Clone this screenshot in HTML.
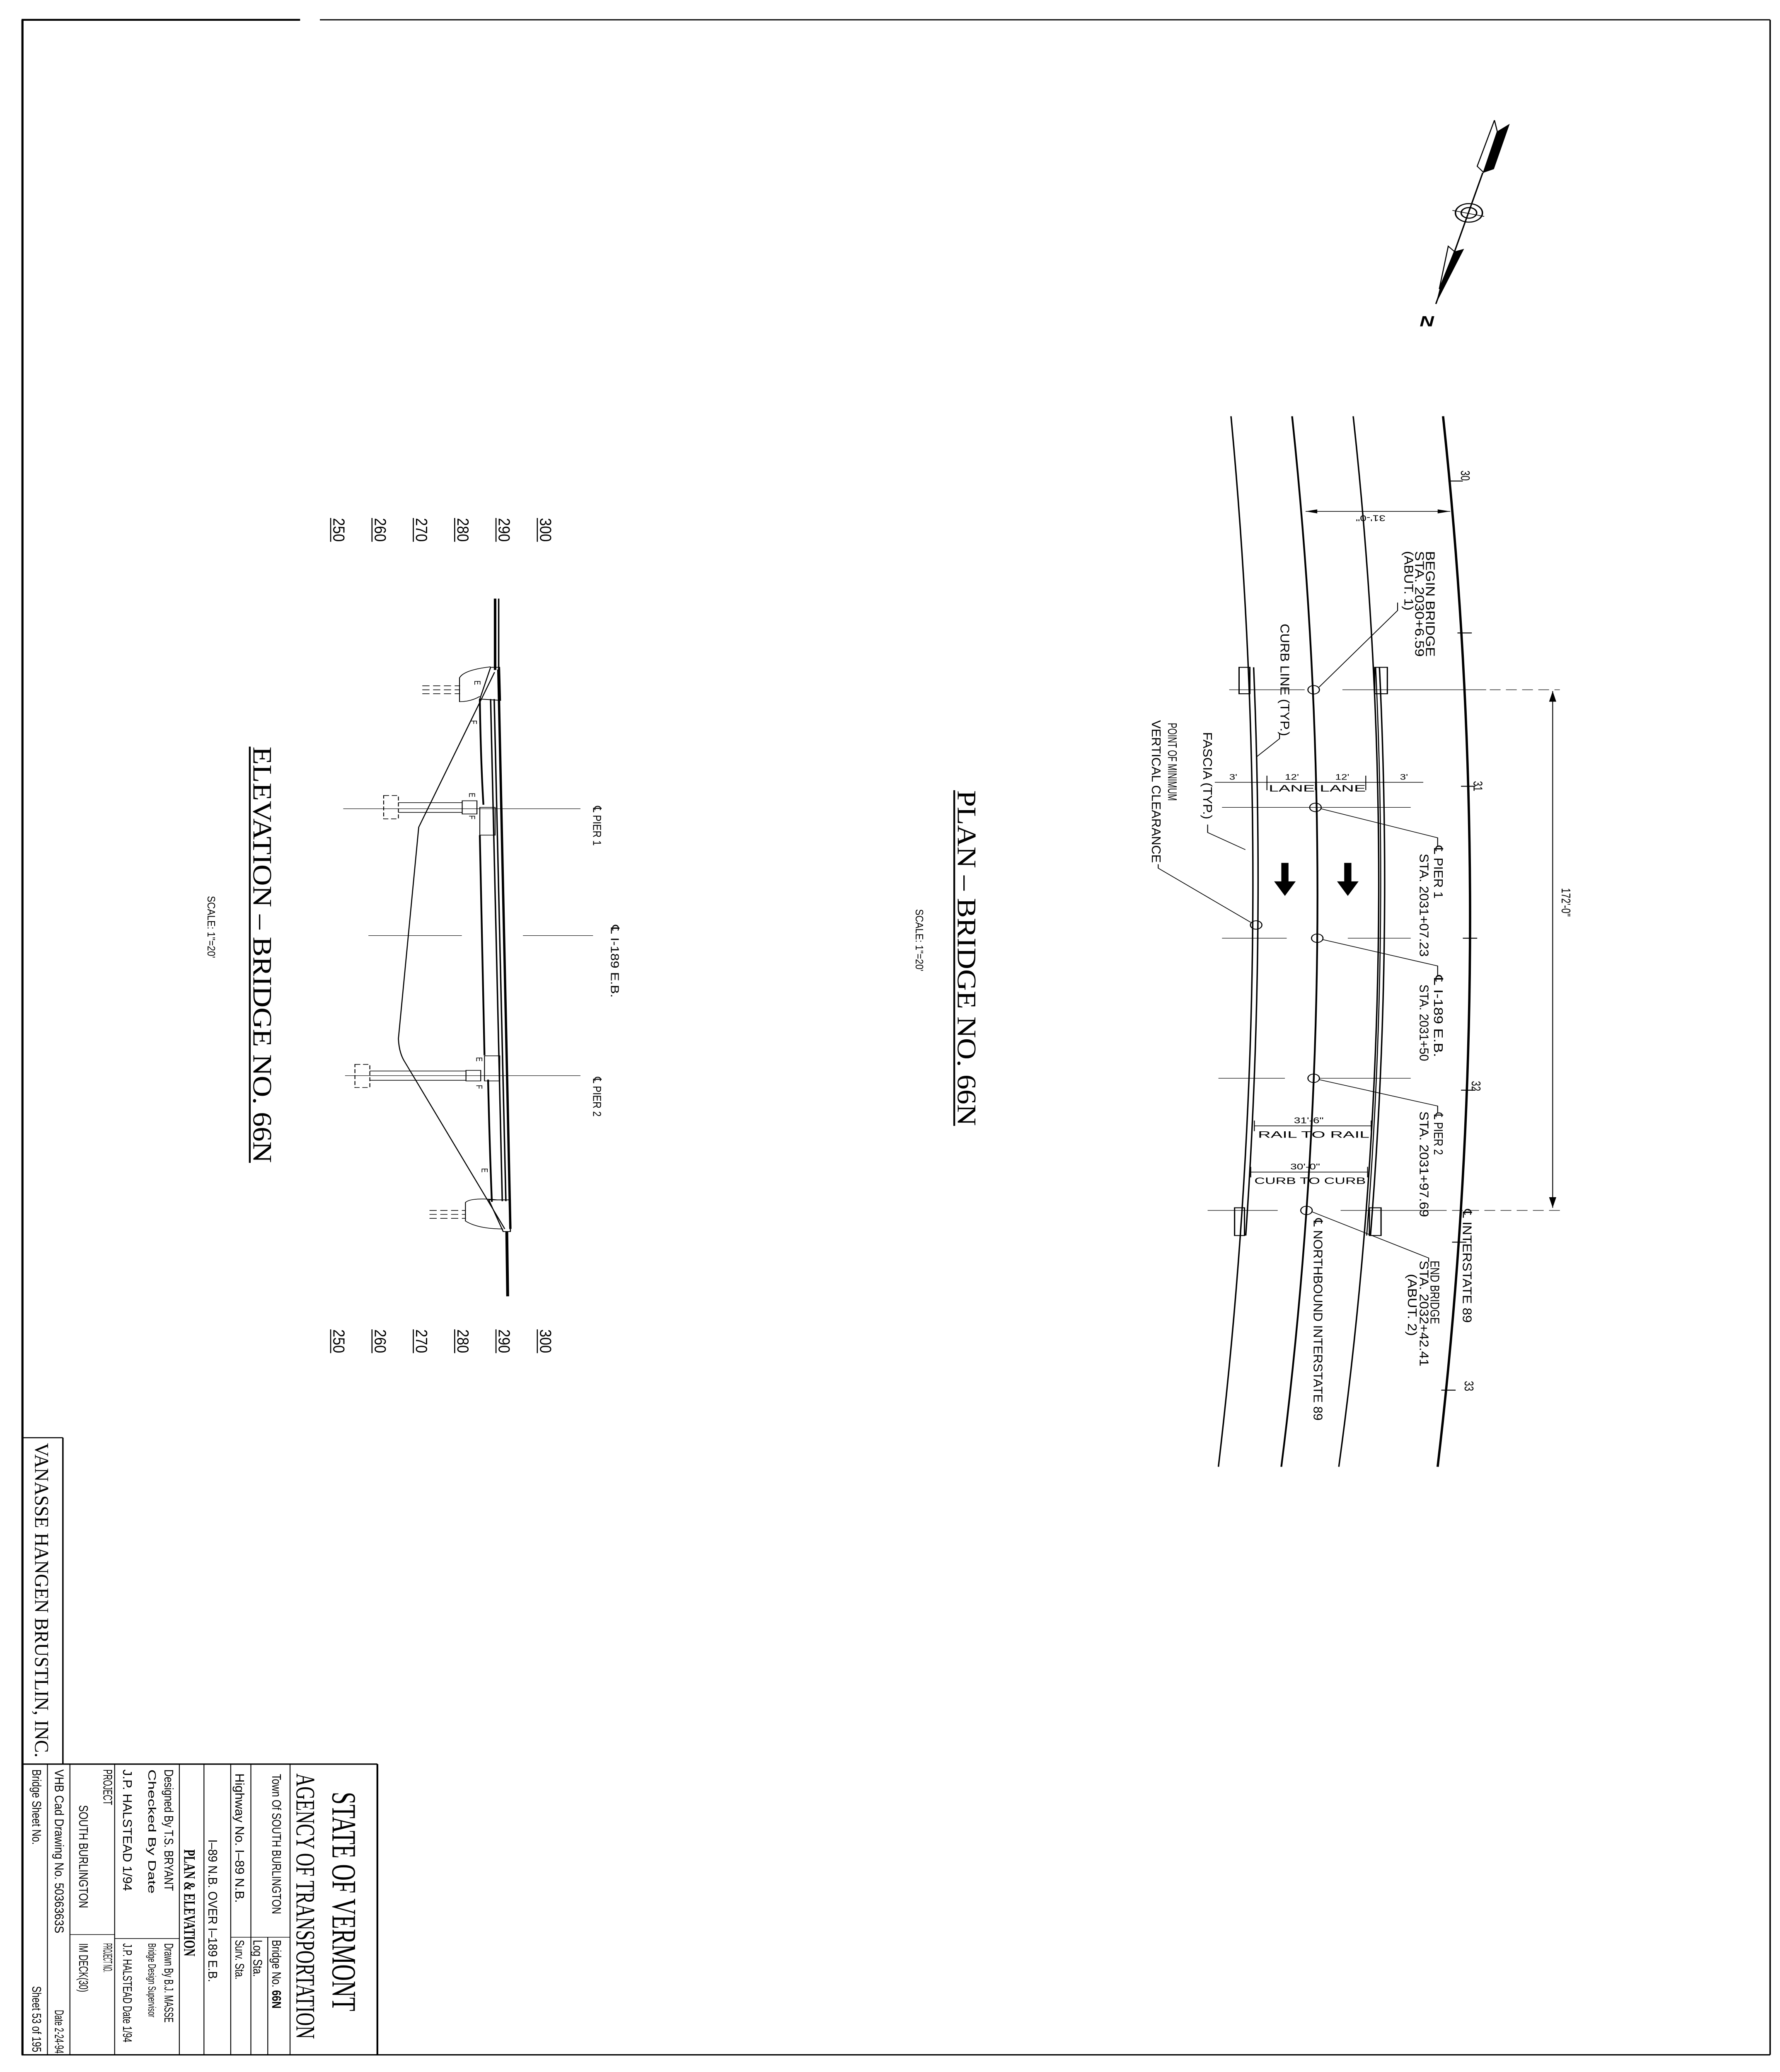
<!DOCTYPE html>
<html><head><meta charset="utf-8"><style>
html,body{margin:0;padding:0;background:#fff;width:100%;height:100%;overflow:hidden;}
svg{display:block;position:fixed;left:0;top:0;width:100vw;height:100vh;}
text{fill:#000;}
.s{font-family:"Liberation Sans","DejaVu Sans",sans-serif;}
.r{font-family:"Liberation Serif","DejaVu Serif",serif;}
</style></head><body>
<svg xmlns="http://www.w3.org/2000/svg" viewBox="0 0 990.5 1568" preserveAspectRatio="none">
<rect x="0" y="0" width="990.5" height="1568" fill="#fff"/>
<g stroke="#000" fill="none" stroke-linecap="butt">
<line x1="12" y1="15" x2="167" y2="15" stroke-width="1.4"/>
<line x1="178" y1="15" x2="985" y2="15" stroke-width="0.9"/>
<line x1="12.5" y1="15" x2="12.5" y2="1555" stroke-width="1.2"/>
<line x1="985" y1="15" x2="985" y2="1555" stroke-width="0.8"/>
<line x1="12" y1="1555" x2="985" y2="1555" stroke-width="1"/>

<line x1="210" y1="1335" x2="210" y2="1555" stroke-width="1"/>
<line x1="12" y1="1335" x2="210" y2="1335" stroke-width="1"/>
<line x1="161.4" y1="1335" x2="161.4" y2="1555" stroke-width="0.5"/>
<line x1="149" y1="1466" x2="149" y2="1555" stroke-width="0.5"/>
<line x1="139.6" y1="1335" x2="139.6" y2="1555" stroke-width="0.5"/>
<line x1="128.4" y1="1335" x2="128.4" y2="1555" stroke-width="0.5"/>
<line x1="113.5" y1="1335" x2="113.5" y2="1555" stroke-width="0.5"/>
<line x1="99.8" y1="1335" x2="99.8" y2="1555" stroke-width="0.5"/>
<line x1="63.8" y1="1335" x2="63.8" y2="1555" stroke-width="0.5"/>
<line x1="38.9" y1="1335" x2="38.9" y2="1555" stroke-width="0.5"/>
<line x1="26.4" y1="1335" x2="26.4" y2="1555" stroke-width="0.5"/>
<line x1="128.4" y1="1466" x2="161.4" y2="1466" stroke-width="0.5"/>
<line x1="63.8" y1="1467" x2="99.8" y2="1467" stroke-width="0.5"/>
<line x1="38.9" y1="1464" x2="63.8" y2="1464" stroke-width="0.5"/>
<line x1="35" y1="1088" x2="35" y2="1335" stroke-width="0.8"/>
<line x1="12" y1="1088" x2="35" y2="1088" stroke-width="0.8"/>

<path d="M803,315 Q834.5,712 800,1110" stroke-width="1.3"/>
<path d="M753,315 Q785,712 745,1110" stroke-width="0.8"/>
<path d="M719,315 Q750,712 713,1110" stroke-width="1"/>
<path d="M685,315 Q712.5,712 678,1110" stroke-width="0.8"/>
<path d="M697.6,505 Q704.2,720 693.2,935" stroke-width="0.8"/>
<path d="M767.6,505 Q775.3,720 762.6,935" stroke-width="0.8"/>
<path d="M765.5,505 Q773,720 760.5,935" stroke-width="0.6"/>
<rect x="689.5" y="505" width="6" height="20" stroke-width="0.7"/>
<rect x="765" y="505" width="7" height="20" stroke-width="0.7"/>
<rect x="687" y="914" width="5.5" height="21" stroke-width="0.7"/>
<rect x="762" y="914" width="6.5" height="21" stroke-width="0.7"/>
<g stroke-width="0.4">
<line x1="684" y1="522" x2="726" y2="522"/><line x1="747" y1="522" x2="827" y2="522"/><line x1="829" y1="522" x2="868" y2="522" stroke-dasharray="6 3"/>
<line x1="680" y1="611" x2="785" y2="611"/>
<line x1="680" y1="710" x2="716" y2="710"/><line x1="750" y1="710" x2="785" y2="710"/>
<line x1="678" y1="816" x2="715" y2="816"/><line x1="734" y1="816" x2="785" y2="816"/>
<line x1="672" y1="916" x2="711" y2="916"/><line x1="746" y1="916" x2="799" y2="916"/><line x1="799" y1="916" x2="868" y2="916" stroke-dasharray="6 3"/>
</g>
<g stroke-width="0.7">
<line x1="806" y1="364" x2="814" y2="364"/>
<line x1="811" y1="479" x2="819" y2="479"/>
<line x1="813" y1="595" x2="821" y2="595"/>
<line x1="814" y1="710" x2="822" y2="710"/>
<line x1="813" y1="825" x2="821" y2="825"/>
<line x1="808" y1="940" x2="816" y2="940"/>
<line x1="802" y1="1052" x2="810" y2="1052"/>
</g>
<g stroke-width="0.6">
<circle cx="731" cy="522" r="3.2"/><circle cx="732" cy="611" r="3.2"/><circle cx="733" cy="710" r="3.2"/>
<circle cx="731" cy="816" r="3.2"/><circle cx="727" cy="916" r="3.2"/><circle cx="699" cy="700" r="3.2"/>
</g>
<g stroke-width="0.5">
<polyline points="734,520 777.7,462 777.7,456"/>
<polyline points="699,573 712,559 712,555"/>
<polyline points="693,643 672,630 672,624"/>
<polyline points="696,698 644.5,657 644.5,654"/>
<polyline points="735,612 800,634 800,640"/>
<polyline points="736,711 800,731 800,738"/>
<polyline points="734,817 800,837 800,842"/>
<polyline points="730,917 795,952 795,955"/>
</g>
<line x1="864" y1="523" x2="864" y2="914" stroke-width="0.5"/>
<line x1="726.5" y1="387" x2="807" y2="387" stroke-width="0.5"/>
<g stroke-width="0.5">
<line x1="676" y1="592" x2="792" y2="592"/>
<line x1="705" y1="587" x2="705" y2="598"/><line x1="760" y1="587" x2="760" y2="598"/>
<line x1="732" y1="592" x2="732" y2="598"/>
<line x1="698" y1="852" x2="763" y2="852"/><line x1="698" y1="848" x2="698" y2="856"/><line x1="763" y1="848" x2="763" y2="856"/>
<line x1="696" y1="887" x2="761" y2="887"/><line x1="696" y1="883" x2="696" y2="891"/><line x1="761" y1="883" x2="761" y2="891"/>
</g>

<line x1="275.5" y1="453" x2="275.5" y2="507" stroke-width="1.4"/>
<line x1="277.5" y1="453" x2="277.5" y2="507" stroke-width="0.8"/>
<line x1="277.3" y1="506.7" x2="284" y2="930" stroke-width="1.3"/>
<line x1="275" y1="529" x2="281.5" y2="909" stroke-width="0.8"/>
<line x1="273" y1="529" x2="279.5" y2="909" stroke-width="0.8"/>
<path d="M267,529 Q267.5,575 269,609" stroke-width="1"/>
<line x1="267" y1="632" x2="269.6" y2="798.6" stroke-width="1"/>
<path d="M271.6,817 Q272.5,870 273.7,909.5" stroke-width="1"/>
<rect x="267" y="611" width="8.5" height="21" stroke-width="0.5"/>
<rect x="269.6" y="799" width="8.5" height="19" stroke-width="0.5"/>
<line x1="282" y1="932" x2="282.5" y2="981" stroke-width="1.6"/>
<polygon points="273,505 278,505 278.5,530 267,529" stroke-width="0.6"/>
<path d="M273,504.6 Q258,507 255.7,513 L255.7,531 Q262,531 267,527" stroke-width="0.5"/>
<polygon points="272,908 284,908 284,932 280,932" stroke-width="0.6"/>
<path d="M277,908 Q262,906 259,910 L259,924 Q266,930 280,930" stroke-width="0.5"/>
<g stroke-width="0.5" stroke-dasharray="4 2">
<line x1="235" y1="519" x2="256" y2="519"/><line x1="235" y1="522" x2="256" y2="522"/><line x1="235" y1="525" x2="256" y2="525"/>
<line x1="239" y1="916" x2="259" y2="916"/><line x1="239" y1="919" x2="259" y2="919"/><line x1="239" y1="922" x2="259" y2="922"/>
</g>
<path d="M275.2,508.7 L233,626 L221.7,786 Q222,796 224.8,802.6 L280.9,930" stroke-width="0.6"/>
<g stroke-width="0.5">
<line x1="191" y1="612" x2="323" y2="612" stroke-width="0.35"/>
<rect x="257.2" y="606" width="8.2" height="10"/>
<line x1="221.7" y1="607.4" x2="257.2" y2="607.4"/><line x1="221.7" y1="614.8" x2="257.2" y2="614.8"/>
<rect x="213.5" y="602" width="8.2" height="17.7" stroke-dasharray="3 1.5"/>
<line x1="192" y1="814" x2="323" y2="814" stroke-width="0.35"/>
<rect x="259.3" y="810" width="8.2" height="8"/>
<line x1="205.8" y1="810.5" x2="259.3" y2="810.5"/><line x1="205.8" y1="817.5" x2="259.3" y2="817.5"/>
<rect x="197.5" y="805.5" width="8.3" height="17.5" stroke-dasharray="3 1.5"/>
<line x1="205" y1="708" x2="257" y2="708" stroke-width="0.35"/>
<line x1="291" y1="708" x2="330" y2="708" stroke-width="0.35"/>
</g>
<g stroke-width="0.6">
<line x1="184" y1="392" x2="184" y2="410"/><line x1="207" y1="392" x2="207" y2="410"/><line x1="230" y1="392" x2="230" y2="410"/>
<line x1="253" y1="392" x2="253" y2="410"/><line x1="276" y1="392" x2="276" y2="410"/><line x1="299" y1="392" x2="299" y2="410"/>
<line x1="184" y1="1006" x2="184" y2="1024"/><line x1="207" y1="1006" x2="207" y2="1024"/><line x1="230" y1="1006" x2="230" y2="1024"/>
<line x1="253" y1="1006" x2="253" y2="1024"/><line x1="276" y1="1006" x2="276" y2="1024"/><line x1="299" y1="1006" x2="299" y2="1024"/>
</g>
<line x1="531" y1="598" x2="531" y2="852" stroke-width="1"/>
<line x1="139" y1="565" x2="139" y2="880" stroke-width="1"/>

<line x1="825.1" y1="130.7" x2="799" y2="230" stroke-width="0.8"/>
<polygon points="831.6,91 833.2,99.6 825.5,130.4 822,125.8" stroke-width="0.6"/>
<ellipse cx="817.4" cy="161.1" rx="7.5" ry="7" stroke-width="0.8"/>
<ellipse cx="817.4" cy="161.1" rx="4.3" ry="4" stroke-width="0.8"/>
<line x1="808.2" y1="159.2" x2="825.9" y2="163.8" stroke-width="0.5"/>
<polygon points="805.9,186.3 809.3,190.3 800.9,218.7" stroke-width="0.6"/>
</g>
<g fill="#000" stroke="none">
<polygon points="840.1,93.7 831.3,128 825.5,130.7 833.6,99"/>
<polygon points="814.7,188.3 799,230 801.3,217.4 809.3,190.3"/>
<polygon points="713,653 717,653 717,667 721,667 715,678 709,667 713,667"/>
<polygon points="748,653 752,653 752,667 756,667 750,678 744,667 748,667"/>
<polygon points="864,523 862,531 866,531"/>
<polygon points="864,914 862,906 866,906"/>
<polygon points="726.5,387 733,385.5 733,388.5"/>
<polygon points="807,387 800,385.5 800,388.5"/>
</g>

<g class="s" font-size="7">
<text transform="translate(793.5,417) rotate(90)" textLength="80" lengthAdjust="spacingAndGlyphs">BEGIN BRIDGE</text>
<text transform="translate(787.5,417) rotate(90)" textLength="80" lengthAdjust="spacingAndGlyphs">STA. 2030+6.59</text>
<text transform="translate(781.5,417) rotate(90)" textLength="45" lengthAdjust="spacingAndGlyphs">(ABUT. 1)</text>
<text transform="translate(712.5,472) rotate(90)" textLength="85" lengthAdjust="spacingAndGlyphs">CURB LINE (TYP.)</text>
<text transform="translate(669.5,554) rotate(90)" textLength="66" lengthAdjust="spacingAndGlyphs">FASCIA (TYP.)</text>
<text transform="translate(650,547) rotate(90)" textLength="59" lengthAdjust="spacingAndGlyphs">POINT OF MINIMUM</text>
<text transform="translate(641,545) rotate(90)" textLength="108" lengthAdjust="spacingAndGlyphs">VERTICAL CLEARANCE</text>
<text transform="translate(798,640) rotate(90)" textLength="40" lengthAdjust="spacingAndGlyphs">℄ PIER 1</text>
<text transform="translate(790,646) rotate(90)" textLength="78" lengthAdjust="spacingAndGlyphs">STA. 2031+07.23</text>
<text transform="translate(798,738) rotate(90)" textLength="62" lengthAdjust="spacingAndGlyphs">℄ I-189 E.B.</text>
<text transform="translate(790,745) rotate(90)" textLength="58" lengthAdjust="spacingAndGlyphs">STA. 2031+50</text>
<text transform="translate(798,842) rotate(90)" textLength="32" lengthAdjust="spacingAndGlyphs">℄ PIER 2</text>
<text transform="translate(790,841) rotate(90)" textLength="80" lengthAdjust="spacingAndGlyphs">STA. 2031+97.69</text>
<text transform="translate(796,954) rotate(90)" textLength="48" lengthAdjust="spacingAndGlyphs">END BRIDGE</text>
<text transform="translate(790,954) rotate(90)" textLength="80" lengthAdjust="spacingAndGlyphs">STA. 2032+42.41</text>
<text transform="translate(783.5,964) rotate(90)" textLength="47" lengthAdjust="spacingAndGlyphs">(ABUT. 2)</text>
<text transform="translate(814,915) rotate(90)" textLength="86" lengthAdjust="spacingAndGlyphs">℄ INTERSTATE 89</text>
<text transform="translate(731,922) rotate(90)" textLength="153" lengthAdjust="spacingAndGlyphs">℄ NORTHBOUND INTERSTATE 89</text>
<text transform="translate(813,356) rotate(90)" font-size="7">30</text>
<text transform="translate(820,591) rotate(90)" font-size="7">31</text>
<text transform="translate(819,818) rotate(90)" font-size="7">32</text>
<text transform="translate(815,1045) rotate(90)" font-size="7">33</text>
<text transform="translate(869,672) rotate(90)" font-size="7">172'-0"</text>
<text transform="translate(771,390) rotate(180)" font-size="6.5">31'-0"</text>
<text x="684" y="590" font-size="6">3'</text>
<text x="715" y="590" font-size="6">12'</text>
<text x="743" y="590" font-size="6">12'</text>
<text x="779" y="590" font-size="6">3'</text>
<text x="706" y="599" font-size="7" textLength="54" lengthAdjust="spacingAndGlyphs">LANE LANE</text>
<text x="720" y="850" font-size="6.5">31'-6"</text>
<text x="700" y="861" font-size="7" textLength="62" lengthAdjust="spacingAndGlyphs">RAIL TO RAIL</text>
<text x="718" y="885" font-size="6.5">30'-0"</text>
<text x="698" y="896" font-size="7" textLength="62" lengthAdjust="spacingAndGlyphs">CURB TO CURB</text>
<text transform="translate(509.5,688) rotate(90)" font-size="6" textLength="47" lengthAdjust="spacingAndGlyphs">SCALE: 1"=20'</text>
<text transform="translate(115.5,678) rotate(90)" font-size="6" textLength="47" lengthAdjust="spacingAndGlyphs">SCALE: 1"=20'</text>
<text transform="translate(330,610) rotate(90)" font-size="6.5" textLength="30" lengthAdjust="spacingAndGlyphs">℄ PIER 1</text>
<text transform="translate(340,700) rotate(90)" font-size="6.5" textLength="55" lengthAdjust="spacingAndGlyphs">℄ I-189 E.B.</text>
<text transform="translate(330,815) rotate(90)" font-size="6.5" textLength="30" lengthAdjust="spacingAndGlyphs">℄ PIER 2</text>
<text transform="translate(264,515) rotate(90)" font-size="5">E</text>
<text transform="translate(261,600) rotate(90)" font-size="5">E</text>
<text transform="translate(261,617) rotate(90)" font-size="5">F</text>
<text transform="translate(265,800) rotate(90)" font-size="5">E</text>
<text transform="translate(265,821) rotate(90)" font-size="5">F</text>
<text transform="translate(268,884) rotate(90)" font-size="5">E</text>
<text transform="translate(262,545) rotate(90)" font-size="5">F</text>
<g font-size="9">
<text transform="translate(185.5,392) rotate(90)" textLength="18" lengthAdjust="spacingAndGlyphs">250</text>
<text transform="translate(208.5,392) rotate(90)" textLength="18" lengthAdjust="spacingAndGlyphs">260</text>
<text transform="translate(231.5,392) rotate(90)" textLength="18" lengthAdjust="spacingAndGlyphs">270</text>
<text transform="translate(254.5,392) rotate(90)" textLength="18" lengthAdjust="spacingAndGlyphs">280</text>
<text transform="translate(277.5,392) rotate(90)" textLength="18" lengthAdjust="spacingAndGlyphs">290</text>
<text transform="translate(300.5,392) rotate(90)" textLength="18" lengthAdjust="spacingAndGlyphs">300</text>
<text transform="translate(185.5,1006) rotate(90)" textLength="18" lengthAdjust="spacingAndGlyphs">250</text>
<text transform="translate(208.5,1006) rotate(90)" textLength="18" lengthAdjust="spacingAndGlyphs">260</text>
<text transform="translate(231.5,1006) rotate(90)" textLength="18" lengthAdjust="spacingAndGlyphs">270</text>
<text transform="translate(254.5,1006) rotate(90)" textLength="18" lengthAdjust="spacingAndGlyphs">280</text>
<text transform="translate(277.5,1006) rotate(90)" textLength="18" lengthAdjust="spacingAndGlyphs">290</text>
<text transform="translate(300.5,1006) rotate(90)" textLength="18" lengthAdjust="spacingAndGlyphs">300</text>
</g>
<text x="790" y="247" font-size="11" font-weight="bold" font-style="italic">N</text>
</g>

<g class="r">
<text transform="translate(533,598) rotate(90)" font-size="15" textLength="254" lengthAdjust="spacingAndGlyphs">PLAN – BRIDGE NO. 66N</text>
<text transform="translate(141,565) rotate(90)" font-size="15" textLength="315" lengthAdjust="spacingAndGlyphs">ELEVATION – BRIDGE NO. 66N</text>
<text transform="translate(19.5,1092) rotate(90)" font-size="11" textLength="238" lengthAdjust="spacingAndGlyphs">VANASSE HANGEN BRUSTLIN, INC.</text>
<text transform="translate(185,1356) rotate(90)" font-size="19" textLength="166" lengthAdjust="spacingAndGlyphs">STATE OF VERMONT</text>
<text transform="translate(165,1342) rotate(90)" font-size="15" textLength="201" lengthAdjust="spacingAndGlyphs">AGENCY OF TRANSPORTATION</text>
<text transform="translate(102.5,1399.5) rotate(90)" font-size="9" font-weight="bold" textLength="81" lengthAdjust="spacingAndGlyphs">PLAN &amp; ELEVATION</text>
</g>
<g class="s" font-size="7">
<text transform="translate(151.5,1342.5) rotate(90)" textLength="106" lengthAdjust="spacingAndGlyphs">Town Of  SOUTH BURLINGTON</text>
<text transform="translate(151.5,1468) rotate(90)" textLength="52" lengthAdjust="spacingAndGlyphs">Bridge No. <tspan font-weight="bold">66N</tspan></text>
<text transform="translate(141,1468) rotate(90)" textLength="28" lengthAdjust="spacingAndGlyphs">Log Sta.</text>
<text transform="translate(131,1342) rotate(90)" textLength="98" lengthAdjust="spacingAndGlyphs">Highway No.  I–89 N.B.</text>
<text transform="translate(131,1468) rotate(90)" textLength="30" lengthAdjust="spacingAndGlyphs">Surv. Sta.</text>
<text transform="translate(116,1392) rotate(90)" textLength="108" lengthAdjust="spacingAndGlyphs">I–89 N.B. OVER I–189 E.B.</text>
<text transform="translate(91.5,1339) rotate(90)" textLength="92" lengthAdjust="spacingAndGlyphs">Designed By  T.S. BRYANT</text>
<text transform="translate(91.5,1470.6) rotate(90)" textLength="60" lengthAdjust="spacingAndGlyphs">Drawn By  B.J. MASSE</text>
<text transform="translate(82.5,1339) rotate(90)" font-size="6" textLength="94" lengthAdjust="spacingAndGlyphs">Checked By                 Date</text>
<text transform="translate(82.5,1470.6) rotate(90)" font-size="6" textLength="56" lengthAdjust="spacingAndGlyphs">Bridge Design Supervisor</text>
<text transform="translate(68.5,1339) rotate(90)" textLength="92" lengthAdjust="spacingAndGlyphs">J.P. HALSTEAD  1/94</text>
<text transform="translate(68.5,1470.6) rotate(90)" textLength="75" lengthAdjust="spacingAndGlyphs">J.P. HALSTEAD Date 1/94</text>
<text transform="translate(57.5,1339) rotate(90)" textLength="27" lengthAdjust="spacingAndGlyphs">PROJECT</text>
<text transform="translate(57.5,1470.6) rotate(90)" textLength="22" lengthAdjust="spacingAndGlyphs">PROJECT NO.</text>
<text transform="translate(44,1366) rotate(90)" textLength="78" lengthAdjust="spacingAndGlyphs">SOUTH BURLINGTON</text>
<text transform="translate(44,1470.6) rotate(90)" textLength="37" lengthAdjust="spacingAndGlyphs">IM DECK(30)</text>
<text transform="translate(30.5,1339) rotate(90)" textLength="124" lengthAdjust="spacingAndGlyphs">VHB Cad Drawing No. 5036363S</text>
<text transform="translate(30.5,1521) rotate(90)" textLength="33" lengthAdjust="spacingAndGlyphs">Date 2-24-94</text>
<text transform="translate(18,1339) rotate(90)" textLength="57" lengthAdjust="spacingAndGlyphs">Bridge Sheet No.</text>
<text transform="translate(18,1503) rotate(90)" textLength="50" lengthAdjust="spacingAndGlyphs">Sheet 53 of 195</text>
</g>
</svg>
</body></html>
